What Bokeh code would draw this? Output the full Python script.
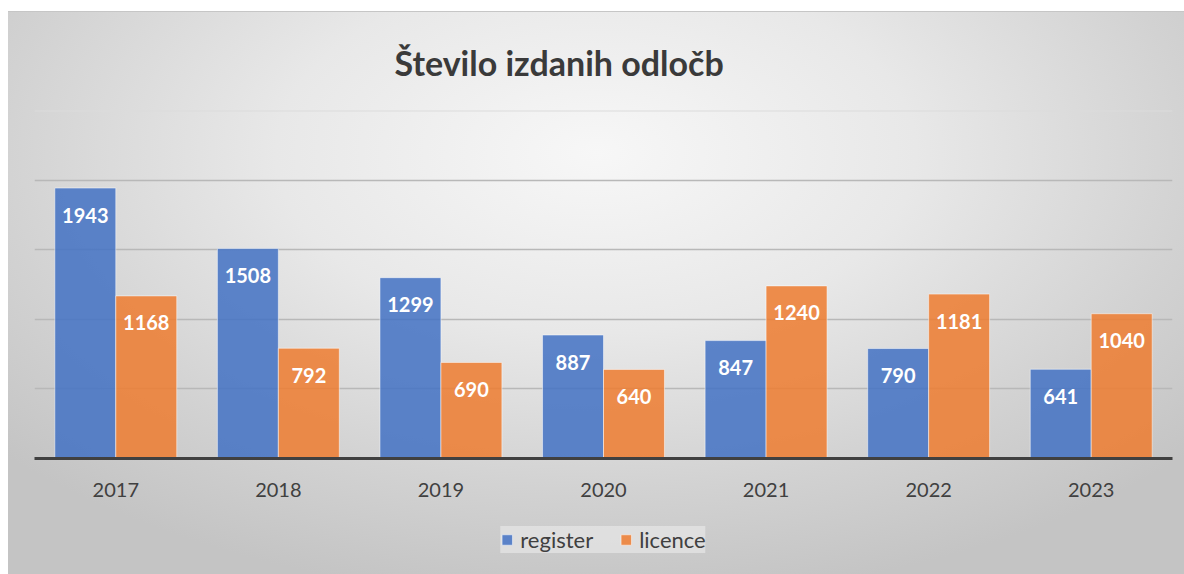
from bokeh.plotting import figure
from bokeh.layouts import column
from bokeh.models import (ColumnDataSource, FactorRange, Range1d, FixedTicker,
                          LabelSet, Legend, LegendItem, Span, Title)
from bokeh.core.properties import value
from bokeh.transform import dodge
from bokeh.embed import file_html
from bokeh.resources import INLINE

# ---- data ----
years = ["2017", "2018", "2019", "2020", "2021", "2022", "2023"]
register = [1943, 1508, 1299, 887, 847, 790, 641]
licence = [1168, 792, 690, 640, 1240, 1181, 1040]
series_names = ["register", "licence"]
title_text = "Število izdanih odločb"
grid_values = [500, 1000, 1500, 2000]
y_max = 2500

FONT = "Lato"
TXT = "#404040"
BLUE = "#4472C4"
ORANGE = "#ED7D31"

src = ColumnDataSource(dict(
    year=years,
    register=register,
    licence=licence,
    register_txt=[str(v) for v in register],
    licence_txt=[str(v) for v in licence],
))

W = 1176
p = figure(
    x_range=FactorRange(*years, range_padding=0),
    y_range=Range1d(0, y_max),
    width=W, height=508,
    output_backend="svg", toolbar_location=None,
    min_border_left=26, min_border_right=12,
    min_border_top=96, min_border_bottom=62,
)
p.background_fill_alpha = 0
p.border_fill_alpha = 0
p.outline_line_color = None

bar_kw = dict(width=0.375, source=src, fill_alpha=0.86,
              line_color="white", line_alpha=0.5, line_width=1)
r1 = p.vbar(x=dodge("year", -0.1875, range=p.x_range), top="register",
            fill_color=BLUE, **bar_kw)
r2 = p.vbar(x=dodge("year", 0.1875, range=p.x_range), top="licence",
            fill_color=ORANGE, **bar_kw)

# data labels
for col, off in (("register", -0.1875), ("licence", 0.1875)):
    p.add_layout(LabelSet(
        x=dodge("year", off, range=p.x_range), y=col, text=col + "_txt",
        source=src, y_offset=-27, text_align="center", text_baseline="middle",
        text_color="white", text_font=value(FONT), text_font_style="bold",
        text_font_size="20px"))

# grid
p.xgrid.grid_line_color = None
p.yaxis.visible = False
p.ygrid.ticker = FixedTicker(ticks=grid_values)
p.ygrid.grid_line_color = "#b8b8b8"
p.ygrid.grid_line_width = 1.5
p.add_layout(Span(location=y_max, dimension="width", line_color="#dcdcdc", line_width=2))

# x axis
xa = p.xaxis[0]
xa.axis_line_color = TXT
xa.axis_line_width = 3
xa.major_tick_line_color = None
xa.minor_tick_line_color = None
xa.major_label_text_font = FONT
xa.major_label_text_font_size = "20px"
xa.major_label_text_color = TXT
xa.major_label_standoff = 18

# title
p.title = Title(text=title_text, align="left", offset=360, standoff=55,
                text_font=FONT, text_font_style="bold", text_font_size="34px",
                text_color="#3a3a3a")

# legend strip (separate small figure, same data/styles)
pl = figure(
    x_range=FactorRange(*years, range_padding=0),
    y_range=Range1d(5000, 6000),
    width=W, height=54,
    output_backend="svg", toolbar_location=None,
    x_axis_type=None, y_axis_type=None,
    min_border=0, min_border_left=14, min_border_top=6,
)
pl.background_fill_alpha = 0
pl.border_fill_alpha = 0
pl.outline_line_color = None
pl.grid.visible = False
l1 = pl.vbar(x=dodge("year", -0.1875, range=pl.x_range), top="register",
             fill_color=BLUE, **bar_kw)
l2 = pl.vbar(x=dodge("year", 0.1875, range=pl.x_range), top="licence",
             fill_color=ORANGE, **bar_kw)

legend = Legend(
    items=[LegendItem(label=series_names[0], renderers=[l1]),
           LegendItem(label=series_names[1], renderers=[l2])],
    orientation="horizontal", location="top_center",
    glyph_width=13, glyph_height=13, label_standoff=7, spacing=26,
    padding=9, margin=0,
    label_text_font=FONT, label_text_font_size="22px", label_text_color=TXT,
    background_fill_color="#eeeeee", background_fill_alpha=0.55,
    border_line_color=None,
)
pl.add_layout(legend, "center")

layout = column(p, pl, spacing=0)
layout.styles = {
    "margin-left": "8px",
    "margin-top": "12px",
    "box-shadow": "0 -1px 0 #c6c6c6",
    "background": "radial-gradient(ellipse 68% 80% at 50% 25%, #f7f7f7 0%, #e8e8e8 40%, #d2d2d2 75%, #c4c4c4 100%)",
}

open("out.html", "w").write(file_html(layout, INLINE))
